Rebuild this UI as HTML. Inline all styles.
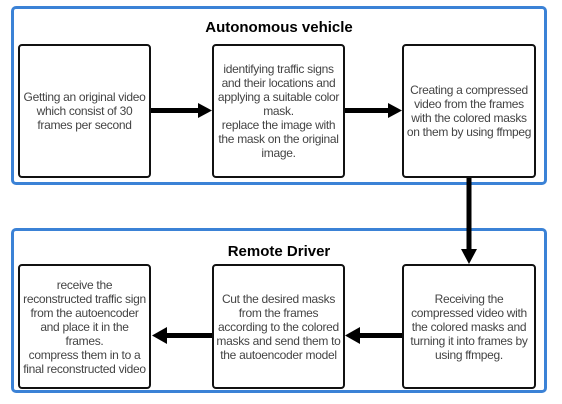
<!DOCTYPE html>
<html><head><style>
body{margin:0;width:562px;height:404px;background:#fff;position:relative;font-family:"Liberation Sans",Arial,sans-serif;overflow:hidden}
.c{position:absolute;border:3px solid #3b82d6;border-radius:5px;box-sizing:border-box}
.t{position:absolute;width:100%;text-align:center;font-weight:bold;font-size:15px;color:#000}
.b{position:absolute;border:2px solid #111;border-radius:4px;box-sizing:border-box;display:flex;align-items:center;justify-content:center;text-align:center;font-size:12px;letter-spacing:-0.3px;line-height:14px;color:#444;white-space:nowrap;background:#fff}
</style></head><body>
<div class="c" style="left:11px;top:6px;width:536px;height:179px"><div class="t" style="top:10px">Autonomous vehicle</div></div>
<div class="c" style="left:11px;top:228px;width:536px;height:165px"><div class="t" style="top:12px">Remote Driver</div></div>
<div class="b" style="left:18px;top:44px;width:133px;height:134px"><div>Getting an original video<br>which consist of 30<br>frames per second</div></div>
<div class="b" style="left:212px;top:44px;width:133px;height:134px"><div>identifying traffic signs<br>and their locations and<br>applying a suitable color<br>mask.<br>replace the image with<br>the mask on the original<br>image.</div></div>
<div class="b" style="left:402px;top:44px;width:134px;height:134px"><div>Creating a compressed<br>video from the frames<br>with the colored masks<br>on them by using ffmpeg</div></div>
<div class="b" style="left:18px;top:264px;width:133px;height:125px"><div>receive the<br>reconstructed traffic sign<br>from the autoencoder<br>and place it in the<br>frames.<br>compress them in to a<br>final reconstructed video</div></div>
<div class="b" style="left:212px;top:264px;width:133px;height:125px"><div>Cut the desired masks<br>from the frames<br>according to the colored<br>masks and send them to<br>the autoencoder model</div></div>
<div class="b" style="left:402px;top:264px;width:134px;height:125px"><div>Receiving the<br>compressed video with<br>the colored masks and<br>turning it into frames by<br>using ffmpeg.</div></div>
<svg width="562" height="404" style="position:absolute;left:0;top:0">
<g fill="#000" stroke="none">
<rect x="151" y="108" width="49" height="5"/><polygon points="198,103 212,110.5 198,118"/>
<rect x="345" y="108" width="44" height="5"/><polygon points="388,103 402,110.5 388,118"/>
<rect x="466.5" y="178" width="5" height="72"/><polygon points="461,249 477,249 469,264"/>
<rect x="358" y="333" width="44" height="5"/><polygon points="360,327 345,335.5 360,344"/>
<rect x="166" y="333" width="46" height="5"/><polygon points="167,327 152,335.5 167,344"/>
</g></svg>
</body></html>
